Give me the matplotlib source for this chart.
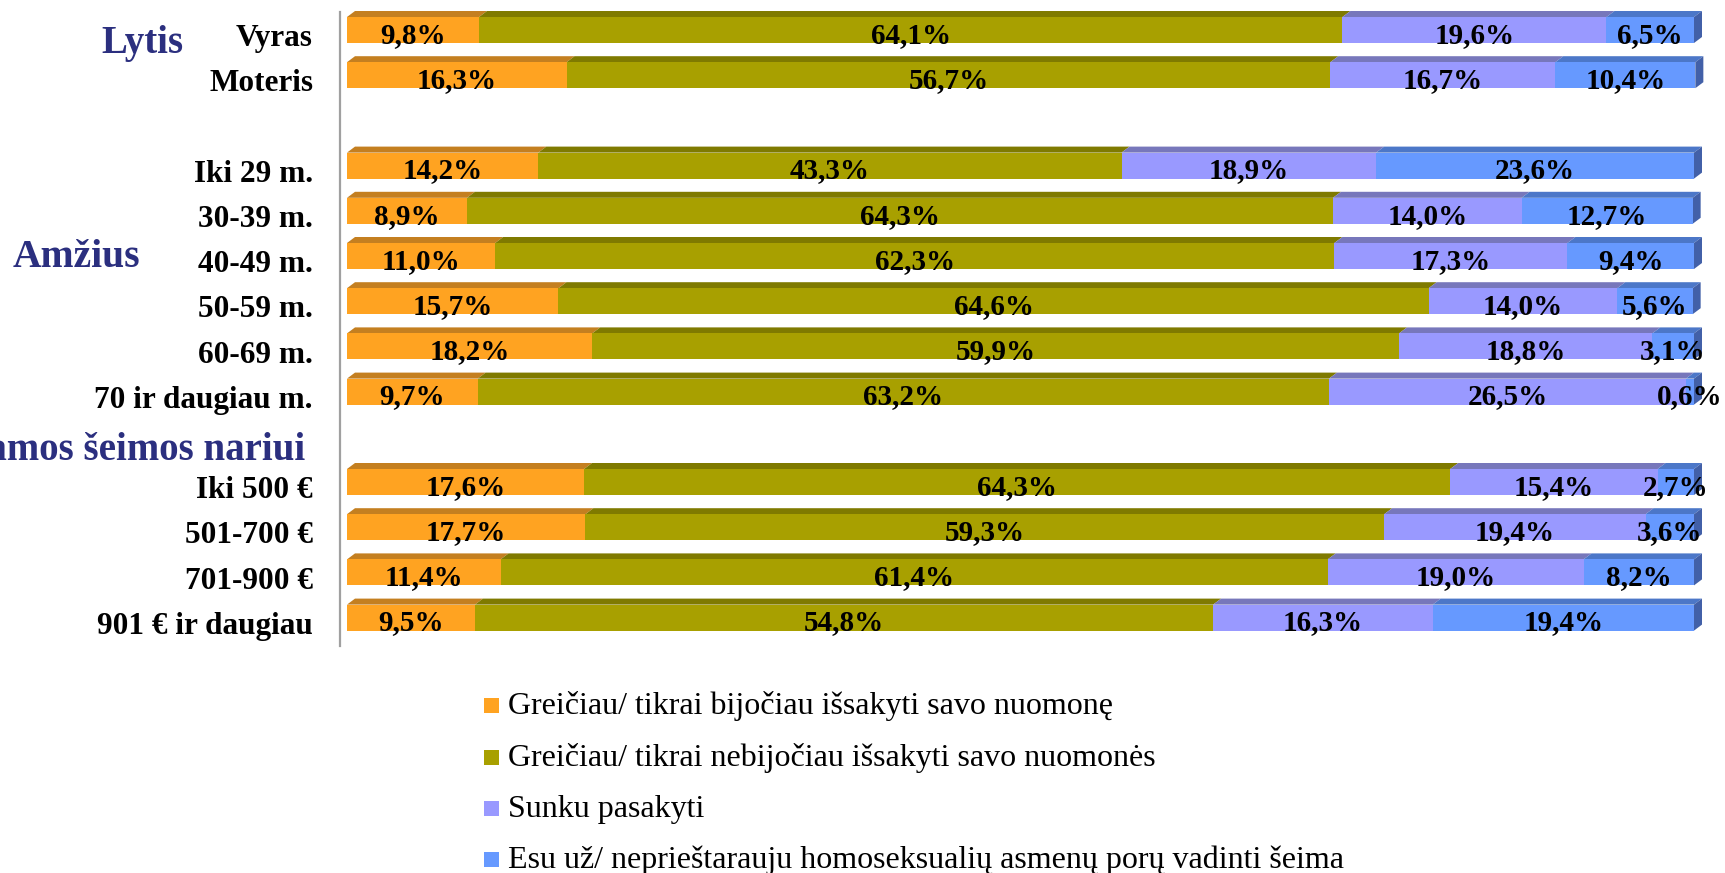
import matplotlib
matplotlib.use("Agg")
import matplotlib.pyplot as plt
from matplotlib.patches import Polygon, Rectangle
import matplotlib.transforms as mtransforms

plt.rcParams['font.family'] = ['Liberation Serif', 'DejaVu Serif']

# ---------------- data ----------------
categories = ["Vyras", "Moteris", "", "Iki 29 m.", "30-39 m.", "40-49 m.", "50-59 m.",
              "60-69 m.", "70 ir daugiau m.", "", "Iki 500 €", "501-700 €", "701-900 €",
              "901 € ir daugiau"]
bijociau = [9.8, 16.3, None, 14.2, 8.9, 11.0, 15.7, 18.2, 9.7, None, 17.6, 17.7, 11.4, 9.5]
nebijociau = [64.1, 56.7, None, 43.3, 64.3, 62.3, 64.6, 59.9, 63.2, None, 64.3, 59.3, 61.4, 54.8]
sunku = [19.6, 16.7, None, 18.9, 14.0, 17.3, 14.0, 18.8, 26.5, None, 15.4, 19.4, 19.0, 16.3]
esu_uz = [6.5, 10.4, None, 23.6, 12.7, 9.4, 5.6, 3.1, 0.6, None, 2.7, 3.6, 8.2, 19.4]

series_names = ["Greičiau/ tikrai bijočiau išsakyti savo nuomonę",
                "Greičiau/ tikrai nebijočiau išsakyti savo nuomonės",
                "Sunku pasakyti",
                "Esu už/ neprieštarauju homoseksualių asmenų porų vadinti šeima"]
group_labels = ["Lytis", "Amžius", "Pajamos šeimos nariui"]
group_rows = [0.51, 5.25, 9.52]

front_colors = ["#FFA321", "#A8A000", "#9999FF", "#6699FF"]
top_colors = ["#C47F20", "#7F7A00", "#7777BB", "#4C77C8"]
side_color = "#4260A8"
navy = "#2B2F7F"

# ---------------- figure ----------------
W, H = 1725, 873
fig = plt.figure(figsize=(W / 100, H / 100), dpi=100)
ax_left, ax_right = 340, 1694
ax_top, ax_bot = 12, 646
ax = fig.add_axes([ax_left / W, 1 - ax_bot / H, (ax_right - ax_left) / W, (ax_bot - ax_top) / H])

px_per_x = 13.47
px_per_row = 45.2
ax.set_xlim(-7 / px_per_x, (ax_right - ax_left - 7) / px_per_x)
ax.set_ylim((ax_bot - 30) / px_per_row, -(30 - ax_top) / px_per_row)

bar_h = 26 / px_per_row
dx = 8 / px_per_x
dy = 6 / px_per_row

series = [bijociau, nebijociau, sunku, esu_uz]
for i, cat in enumerate(categories):
    if series[0][i] is None:
        continue
    left = 0.0
    for s, vals in enumerate(series):
        v = vals[i]
        ax.barh(i, v, left=left, height=bar_h, color=front_colors[s],
                edgecolor="none", zorder=3)
        yt = i - bar_h / 2
        ax.add_patch(Polygon([(left, yt), (left + v, yt), (left + v + dx, yt - dy),
                              (left + dx, yt - dy)], closed=True,
                             facecolor=top_colors[s], edgecolor="none", zorder=2))
        lbl = f"{v:.1f}".replace(".", ",") + "%"
        ax.text(left + v / 2, i + 0.285, lbl, ha="center", va="baseline",
                fontsize=21, fontweight="bold", color="black", zorder=5, clip_on=False)
        left += v
    yt = i - bar_h / 2
    yb = i + bar_h / 2
    ax.add_patch(Polygon([(left, yt), (left, yb), (left + dx, yb - dy), (left + dx, yt - dy)],
                         closed=True, facecolor=side_color, edgecolor="none", zorder=2,
                         clip_on=False))

for sp in ["top", "right", "bottom"]:
    ax.spines[sp].set_visible(False)
ax.spines["left"].set_color("#A0A0A0")
ax.spines["left"].set_linewidth(1.6)
ax.set_xticks([])
ax.set_yticks([])
for p in ax.patches:
    p.set_clip_on(False)

# category labels
trans = mtransforms.blended_transform_factory(fig.transFigure, ax.transData)
for i, cat in enumerate(categories):
    if cat:
        ax.text(313 / W, i + 0.36, cat, transform=trans, ha="right", va="baseline",
                fontsize=22.5, fontweight="bold", color="black", clip_on=False)

# group labels
ax.text(184 / W, group_rows[0], group_labels[0], transform=trans, ha="right", va="baseline",
        fontsize=28, fontweight="bold", color=navy, clip_on=False)
ax.text(13 / W, group_rows[1], group_labels[1], transform=trans, ha="left", va="baseline",
        fontsize=28.5, fontweight="bold", color=navy, clip_on=False)
ax.text(305 / W, group_rows[2], group_labels[2], transform=trans, ha="right", va="baseline",
        fontsize=28, fontweight="bold", color=navy, clip_on=False)

# legend
leg_y = [705, 757, 808, 859]
for s, name in enumerate(series_names):
    yc = leg_y[s]
    fig.patches.append(Rectangle((484 / W, 1 - (yc + 8) / H), 15 / W, 15 / H,
                                 transform=fig.transFigure, facecolor=front_colors[s],
                                 edgecolor="none"))
    fig.text(508 / W, 1 - (yc + 9) / H, name, ha="left", va="baseline",
             fontsize=23, color="black")

fig.savefig("out.png", dpi=100)
